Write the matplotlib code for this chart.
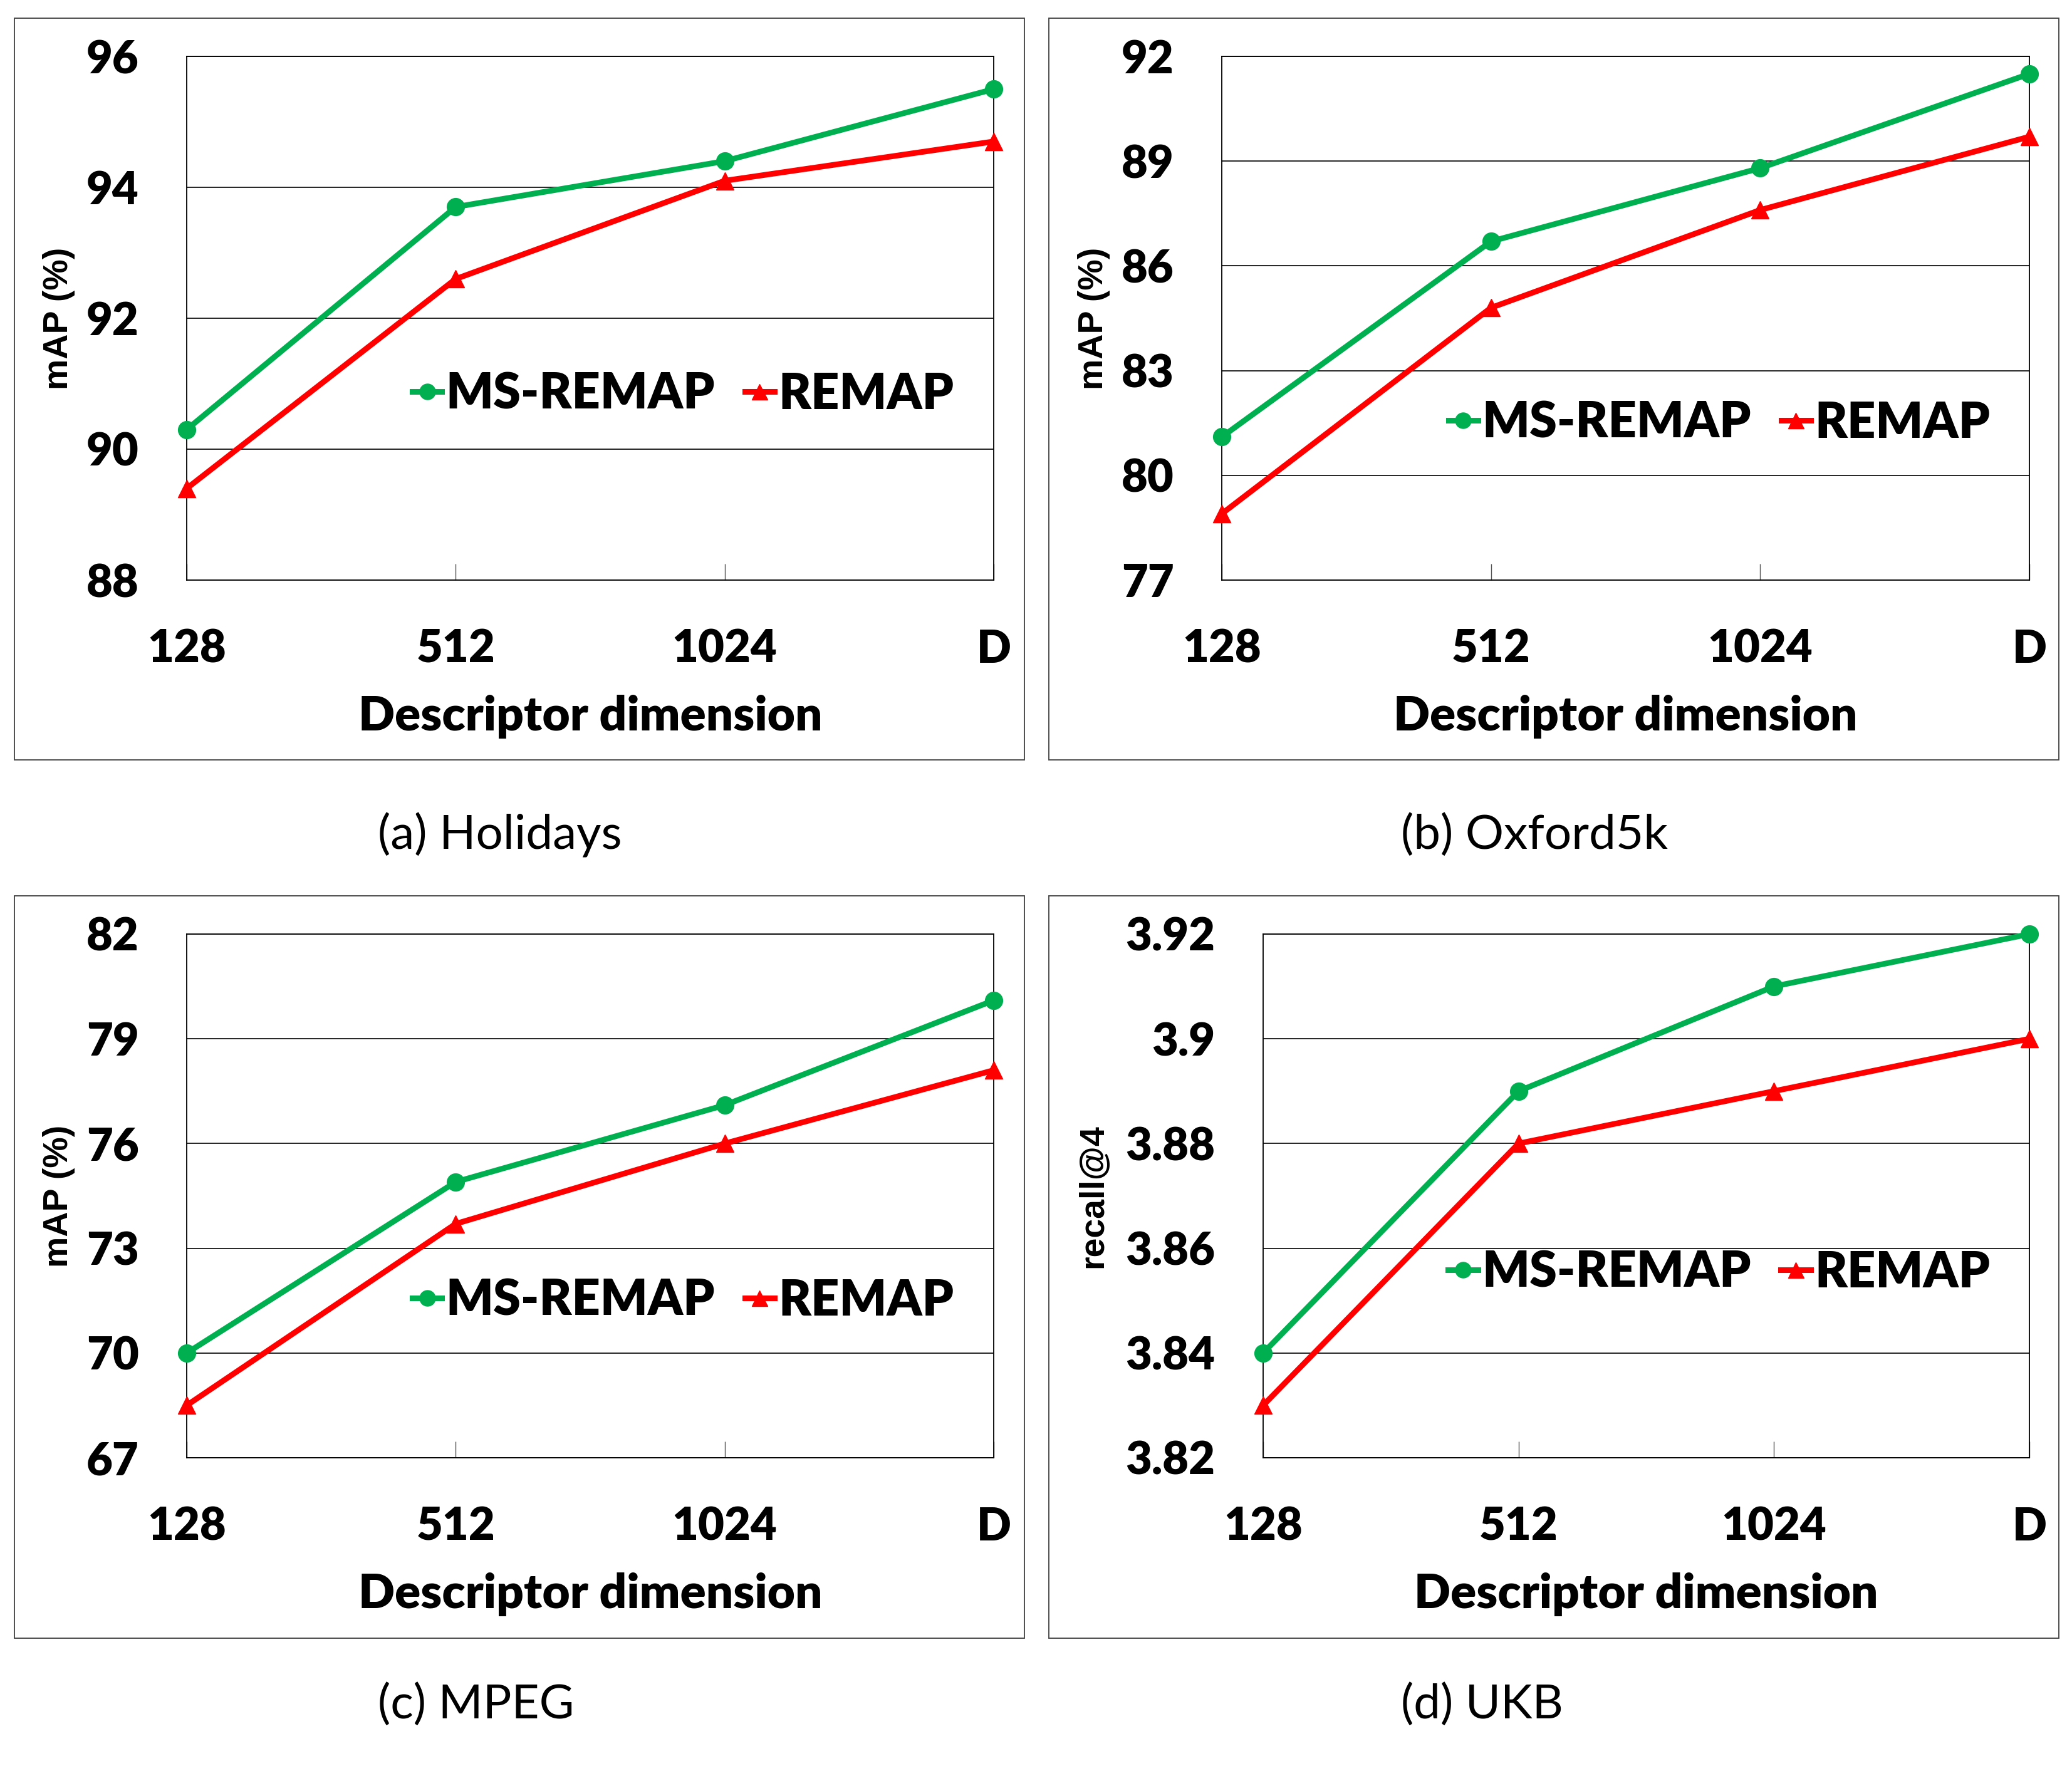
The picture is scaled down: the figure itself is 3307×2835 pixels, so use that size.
import numpy as np
import matplotlib.pyplot as plt
from matplotlib.patches import Rectangle

# Data
dims = ['128', '512', '1024', 'D']

holidays_ms = [90.3, 93.7, 94.4, 95.5]
holidays_remap = [89.4, 92.6, 94.1, 94.7]

oxford_ms = [81.1, 86.7, 88.8, 91.5]
oxford_remap = [78.9, 84.8, 87.6, 89.7]

mpeg_ms = [70.0, 74.9, 77.1, 80.1]
mpeg_remap = [68.5, 73.7, 76.0, 78.1]

ukb_ms = [3.84, 3.89, 3.91, 3.92]
ukb_remap = [3.83, 3.88, 3.89, 3.90]

holidays_ticks = [88, 90, 92, 94, 96]
oxford_ticks = [77, 80, 83, 86, 89, 92]
mpeg_ticks = [67, 70, 73, 76, 79, 82]
ukb_ticks = [3.82, 3.84, 3.86, 3.88, 3.90, 3.92]
ukb_ticklabels = ['3.82', '3.84', '3.86', '3.88', '3.9', '3.92']

captions = ['(a) Holidays', '(b) Oxford5k', '(c) MPEG', '(d) UKB']

W, H = 3307, 2835
fig = plt.figure(figsize=(W / 100, H / 100), dpi=100)

GREEN = '#00B050'
RED = '#FF0000'
bold = 'Lato'
WEIGHT = 'heavy'


def px_axes(l, t, r, b):
    return [l / W, 1 - b / H, (r - l) / W, (b - t) / H]


def draw_panel(rect, ms, remap, ticks, ticklabels, ylabel, ylab_x, leg_xy):
    ax = fig.add_axes(px_axes(*rect))
    x = np.arange(len(dims))
    ax.plot(x, ms, color=GREEN, lw=6.5, marker='o', ms=20, label='MS-REMAP',
            solid_joinstyle='round', zorder=4, clip_on=False)
    ax.plot(x, remap, color=RED, lw=6.5, marker='^', ms=20, label='REMAP',
            solid_joinstyle='round', zorder=3, clip_on=False)
    ax.set_xlim(0, len(dims) - 1)
    ax.set_ylim(ticks[0], ticks[-1])
    ax.set_yticks(ticks)
    ax.set_yticklabels(ticklabels if ticklabels else [str(t) for t in ticks])
    ax.set_xticks(x)
    ax.set_xticklabels(dims)
    ax.yaxis.grid(True, color='black', lw=1.2)
    ax.set_axisbelow(True)
    for s in ax.spines.values():
        s.set_color('black')
        s.set_linewidth(1.3)
    ax.tick_params(axis='y', length=0, pad=55, labelsize=52)
    ax.tick_params(axis='x', direction='in', length=19, width=1, color='#555555',
                   pad=56, labelsize=52)
    for lab in ax.get_xticklabels() + ax.get_yticklabels():
        lab.set_fontfamily(bold)
        lab.set_fontweight(WEIGHT)
    ax.set_xlabel('Descriptor dimension', fontsize=55, fontfamily=bold,
                  fontweight=WEIGHT, labelpad=28)
    ax.text(ylab_x, 0.5, ylabel, transform=ax.transAxes, rotation=90,
            ha='center', va='center', fontsize=40, fontweight='bold',
            fontfamily='Liberation Sans')
    ax.legend(loc='center', bbox_to_anchor=leg_xy, ncol=2, frameon=False,
              prop={'family': bold, 'weight': WEIGHT, 'size': 57},
              handlelength=0.6, handletextpad=0.08, columnspacing=0.6,
              borderpad=0, markerscale=0.9)
    return ax


draw_panel((298, 90, 1586, 926), holidays_ms, holidays_remap, holidays_ticks, None,
           'mAP (%)', -0.158, (0.615, 0.355))
draw_panel((1950, 90, 3239, 926), oxford_ms, oxford_remap, oxford_ticks, None,
           'mAP (%)', -0.158, (0.616, 0.30))
draw_panel((298, 1491, 1586, 2327), mpeg_ms, mpeg_remap, mpeg_ticks, None,
           'mAP (%)', -0.158, (0.615, 0.30))
draw_panel((2016, 1491, 3239, 2327), ukb_ms, ukb_remap, ukb_ticks, ukb_ticklabels,
           'recall@4', -0.221, (0.595, 0.354))

# outer chart-area boxes
boxes = [(23, 29, 1635, 1213), (1674, 29, 3286, 1213),
         (23, 1430, 1635, 2615), (1674, 1430, 3286, 2615)]
for l, t, r, b in boxes:
    fig.add_artist(Rectangle((l / W, 1 - b / H), (r - l) / W, (b - t) / H,
                             transform=fig.transFigure, fill=False,
                             edgecolor='#404040', lw=1.3))

cap_pos = [(603, 1333), (2236, 1333), (603, 2721), (2236, 2721)]
for (cx, cy), txt in zip(cap_pos, captions):
    fig.text(cx / W, 1 - cy / H, txt, ha='left', va='center', fontsize=55,
             fontfamily='Lato')

fig.savefig('out.png', dpi=100)
